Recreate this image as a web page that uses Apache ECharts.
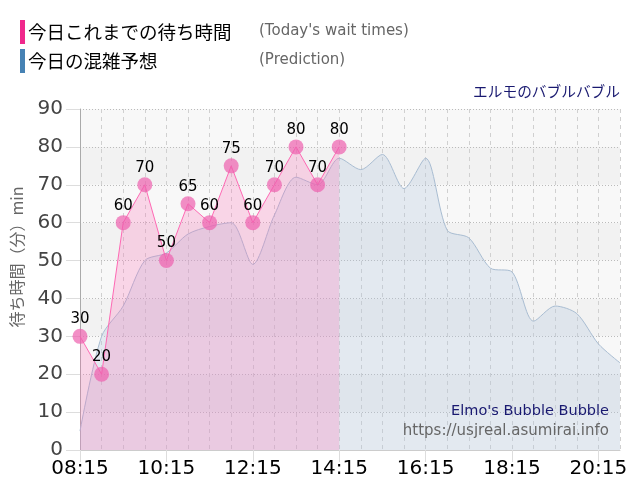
<!DOCTYPE html>
<html>
<head>
<meta charset="utf-8">
<script src="https://cdn.jsdelivr.net/npm/echarts@6/dist/echarts.min.js"></script>
<style>
html,body{margin:0;padding:0;background:#fff;}
#chart{width:640px;height:500px;}
</style>
</head>
<body>
<div id="chart"></div>
<script>
// Time categories, every 30 minutes
var times = ['08:15','08:45','09:15','09:45','10:15','10:45','11:15','11:45','12:15','12:45',
  '13:15','13:45','14:15','14:45','15:15','15:45','16:15','16:45','17:15','17:45',
  '18:15','18:45','19:15','19:45','20:15','20:45'];
// Today's wait times (observed so far)
var todayWait = [30,20,60,70,50,65,60,75,60,70,80,70,80,
  null,null,null,null,null,null,null,null,null,null,null,null,null];
// Predicted congestion
var prediction = [5,30,38,50,52,57,59,60,49,62,72,70,77,74,78,69,77,58,56,48,47,34,38,36,28,23];
var yTicks = [0,10,20,30,40,50,60,70,80,90];

var latin = 'DejaVu Sans';
var cjk = '"Noto Sans CJK JP", "DejaVu Sans"';

var chart = echarts.init(document.getElementById('chart'));
chart.setOption({
  animation: false,
  backgroundColor: '#ffffff',
  grid: {left: 80, right: 20, top: 109, bottom: 50},
  xAxis: {
    type: 'category',
    data: times,
    boundaryGap: false,
    axisLine: {lineStyle: {color: '#cccccc'}},
    axisTick: {show: true, interval: 3, length: 12, lineStyle: {color: '#dddddd'}},
    axisLabel: {interval: 3, fontSize: 20, color: '#000', fontFamily: latin, margin: 9},
    splitLine: {show: true, interval: 0, lineStyle: {color: '#d0d0d0', type: [4,4]}}
  },
  yAxis: {
    type: 'value',
    min: yTicks[0],
    max: yTicks[yTicks.length - 1],
    interval: 10,
    axisLine: {show: true, lineStyle: {color: '#aaaaaa'}},
    axisTick: {show: true, length: 14, lineStyle: {color: '#dddddd'}},
    axisLabel: {fontSize: 20, color: '#444', fontFamily: latin, margin: 17},
    splitLine: {show: true, lineStyle: {color: '#bbbbbb', type: [1,2]}},
    splitArea: {show: true, areaStyle: {color: ['#f8f8f8', '#f2f2f2']}}
  },
  series: [
    {
      name: 'prediction',
      type: 'line',
      data: prediction,
      smooth: 0.28,
      symbol: 'none',
      lineStyle: {color: '#a9bdd2', width: 1},
      areaStyle: {color: 'rgba(176,196,222,0.42)'},
      z: 2
    },
    {
      name: 'today',
      type: 'line',
      data: todayWait,
      showAllSymbol: true,
      symbol: 'circle',
      symbolSize: 15,
      itemStyle: {color: 'rgba(238,95,174,0.7)'},
      lineStyle: {color: '#ff69b4', width: 1},
      areaStyle: {color: 'rgba(255,105,180,0.35)'},
      label: {show: true, position: 'top', distance: 2, color: '#000', fontSize: 15, fontFamily: latin},
      z: 3
    }
  ],
  graphic: [
    {type: 'rect', shape: {x: 20, y: 20, width: 5, height: 24}, style: {fill: '#f0288c'}},
    {type: 'rect', shape: {x: 20, y: 49, width: 5, height: 24}, style: {fill: '#4682b4'}},
    {type: 'text', style: {x: 28, y: 32, text: '今日これまでの待ち時間', fill: '#000', font: '18.5px ' + cjk, verticalAlign: 'middle'}},
    {type: 'text', style: {x: 259, y: 31, text: "(Today's wait times)", fill: '#666', font: '15px ' + latin, verticalAlign: 'middle'}},
    {type: 'text', style: {x: 28, y: 61, text: '今日の混雑予想', fill: '#000', font: '18.5px ' + cjk, verticalAlign: 'middle'}},
    {type: 'text', style: {x: 259, y: 60, text: '(Prediction)', fill: '#666', font: '15px ' + latin, verticalAlign: 'middle'}},
    {type: 'text', style: {x: 620, y: 91, text: 'エルモのバブルバブル', fill: '#191970', font: '14.7px ' + cjk, align: 'right', verticalAlign: 'middle'}},
    {type: 'text', x: 17, y: 257, rotation: Math.PI / 2,
      style: {x: 0, y: 0, text: '待ち時間（分）min', fill: '#666', font: '16px ' + cjk, align: 'center', verticalAlign: 'middle'}},
    {type: 'text', z: 10, style: {x: 609, y: 411, text: "Elmo's Bubble Bubble", fill: '#191970', font: '14.5px ' + latin, align: 'right', verticalAlign: 'middle'}},
    {type: 'text', z: 10, style: {x: 609, y: 431, text: 'https://usjreal.asumirai.info', fill: '#666', font: '15px ' + latin, align: 'right', verticalAlign: 'middle'}}
  ]
});
</script>
</body>
</html>
